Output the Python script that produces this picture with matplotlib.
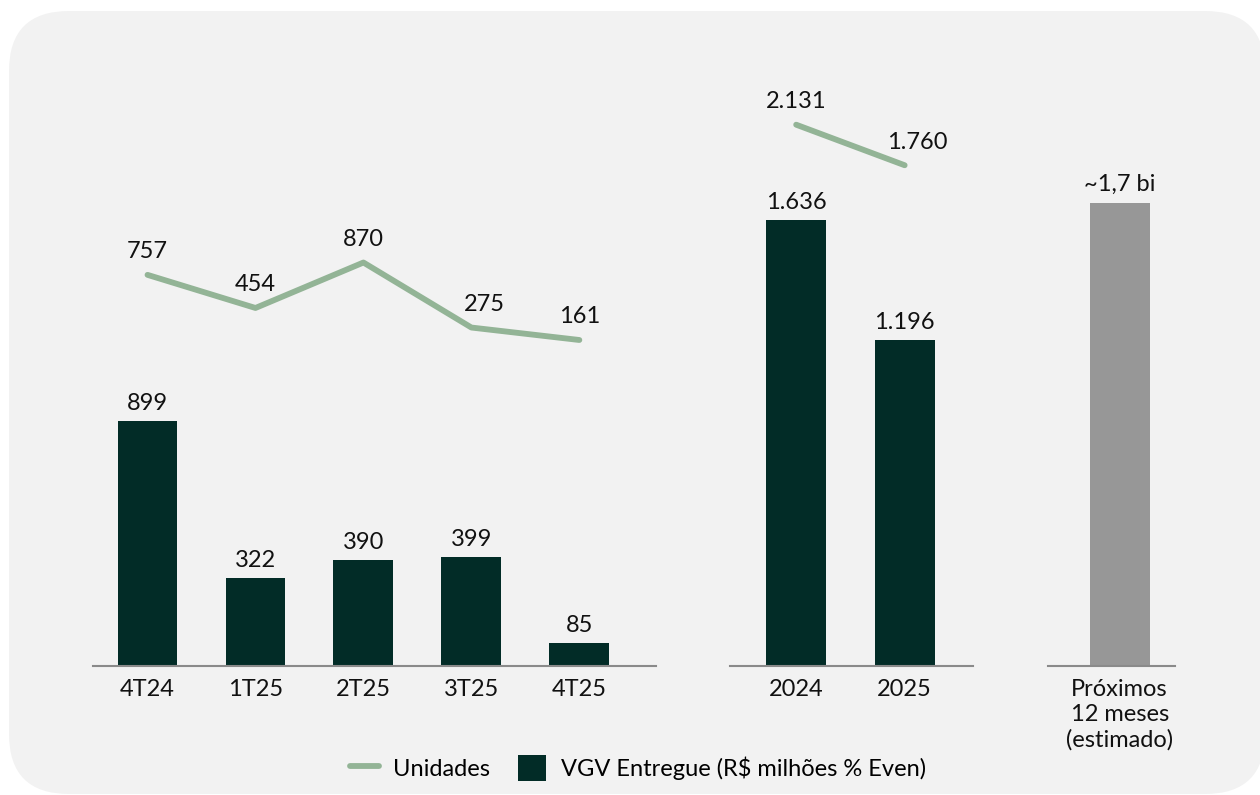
import matplotlib.pyplot as plt
from matplotlib.patches import FancyBboxPatch
from matplotlib.lines import Line2D
from matplotlib.patches import Patch
from matplotlib.transforms import IdentityTransform

plt.rcParams['font.family'] = ['Lato', 'DejaVu Sans']

# quarterly
quarters = ["4T24", "1T25", "2T25", "3T25", "4T25"]
vgv_quarters = [899, 322, 390, 399, 85]
units_quarters = [757, 454, 870, 275, 161]
# yearly
years = ["2024", "2025"]
vgv_years = [1636, 1196]
units_years = [2131, 1760]
# forecast
forecast_label = ["Próximos\n12 meses\n(estimado)"]
forecast_value = [1700]
forecast_text = "~1,7 bi"

BAR = "#022c27"
LINE = "#93b496"
GREY = "#979797"
BASE = "#8a8a8a"
BG = "#f2f2f2"
FS = 17

fig = plt.figure(figsize=(12.6, 7.95), dpi=100)
fig.patch.set_facecolor("white")

# rounded panel, in display pixels (origin bottom-left)
panel = FancyBboxPatch((9 + 60, 795 - 794 + 60), 1265 - 9 - 120, 794 - 11 - 120,
                       boxstyle="round,pad=60", transform=IdentityTransform(),
                       facecolor=BG, edgecolor="none", zorder=-10)
fig.patches.append(panel)

bottom = 1 - 666 / 795
height = (666 - 80) / 795
bar_ylim = (0, 586 * 3.67)
line_ylim = (-2822, 2540)


def make_axes(left_px, right_px, xlim):
    ax = fig.add_axes([left_px / 1260, bottom, (right_px - left_px) / 1260, height])
    ax.set_facecolor("none")
    ax.set_xlim(*xlim)
    ax.set_ylim(*bar_ylim)
    for s in ["top", "right", "left"]:
        ax.spines[s].set_visible(False)
    ax.spines["bottom"].set_color(BASE)
    ax.spines["bottom"].set_linewidth(1.5)
    ax.set_yticks([])
    ax.tick_params(axis="x", length=0, pad=9, labelsize=FS, labelcolor="#111111")
    return ax


def bar_labels(ax, xs, vals, texts, offset=5):
    for x, v, t in zip(xs, vals, texts):
        ax.annotate(t, (x, v), xytext=(0, offset), textcoords="offset points",
                    ha="center", va="bottom", fontsize=FS, color="#111111")


def line_part(ax, xs, vals, texts, dx):
    tw = ax.twinx()
    tw.set_ylim(*line_ylim)
    tw.axis("off")
    tw.plot(xs, vals, color=LINE, lw=4.2, solid_capstyle="round", solid_joinstyle="round")
    for x, v, t, d in zip(xs, vals, texts, dx):
        tw.annotate(t, (x, v), xytext=(d, 9), textcoords="offset points",
                    ha="center", va="bottom", fontsize=FS, color="#111111")


# quarters
ax1 = make_axes(93, 656, (-0.505, 4.71))
x1 = list(range(len(quarters)))
ax1.bar(x1, vgv_quarters, width=0.555, color=BAR)
ax1.set_xticks(x1, quarters)
bar_labels(ax1, x1, vgv_quarters, [str(v) for v in vgv_quarters])
line_part(ax1, x1, units_quarters, [str(v) for v in units_quarters], [0, 0, 0, 9, 0])

# years
ax2 = make_axes(730, 973, (-0.61, 1.63))
x2 = list(range(len(years)))
ax2.bar(x2, vgv_years, width=0.555, color=BAR)
ax2.set_xticks(x2, years)
bar_labels(ax2, x2, vgv_years, [f"{v:,}".replace(",", ".") for v in vgv_years])
line_part(ax2, x2, units_years, [f"{v:,}".replace(",", ".") for v in units_years], [0, 9])

# forecast
ax3 = make_axes(1048, 1175, (-0.66, 0.51))
ax3.bar([0], forecast_value, width=0.555, color=GREY)
ax3.set_xticks([0], forecast_label)
for lab in ax3.get_xticklabels():
    lab.set_linespacing(1.25)
bar_labels(ax3, [0], forecast_value, [forecast_text], offset=6)

handles = [Line2D([0], [0], color=LINE, lw=4.2, solid_capstyle="round"),
           Patch(facecolor=BAR)]
fig.legend(handles, ["Unidades", "VGV Entregue (R$ milhões % Even)"],
           loc="center", bbox_to_anchor=(638 / 1260, 1 - 768 / 795), ncol=2,
           frameon=False, fontsize=FS, handlelength=1.2, handleheight=1.3,
           handletextpad=0.6, columnspacing=1.2)

fig.savefig("out.png", dpi=100, facecolor="white")
